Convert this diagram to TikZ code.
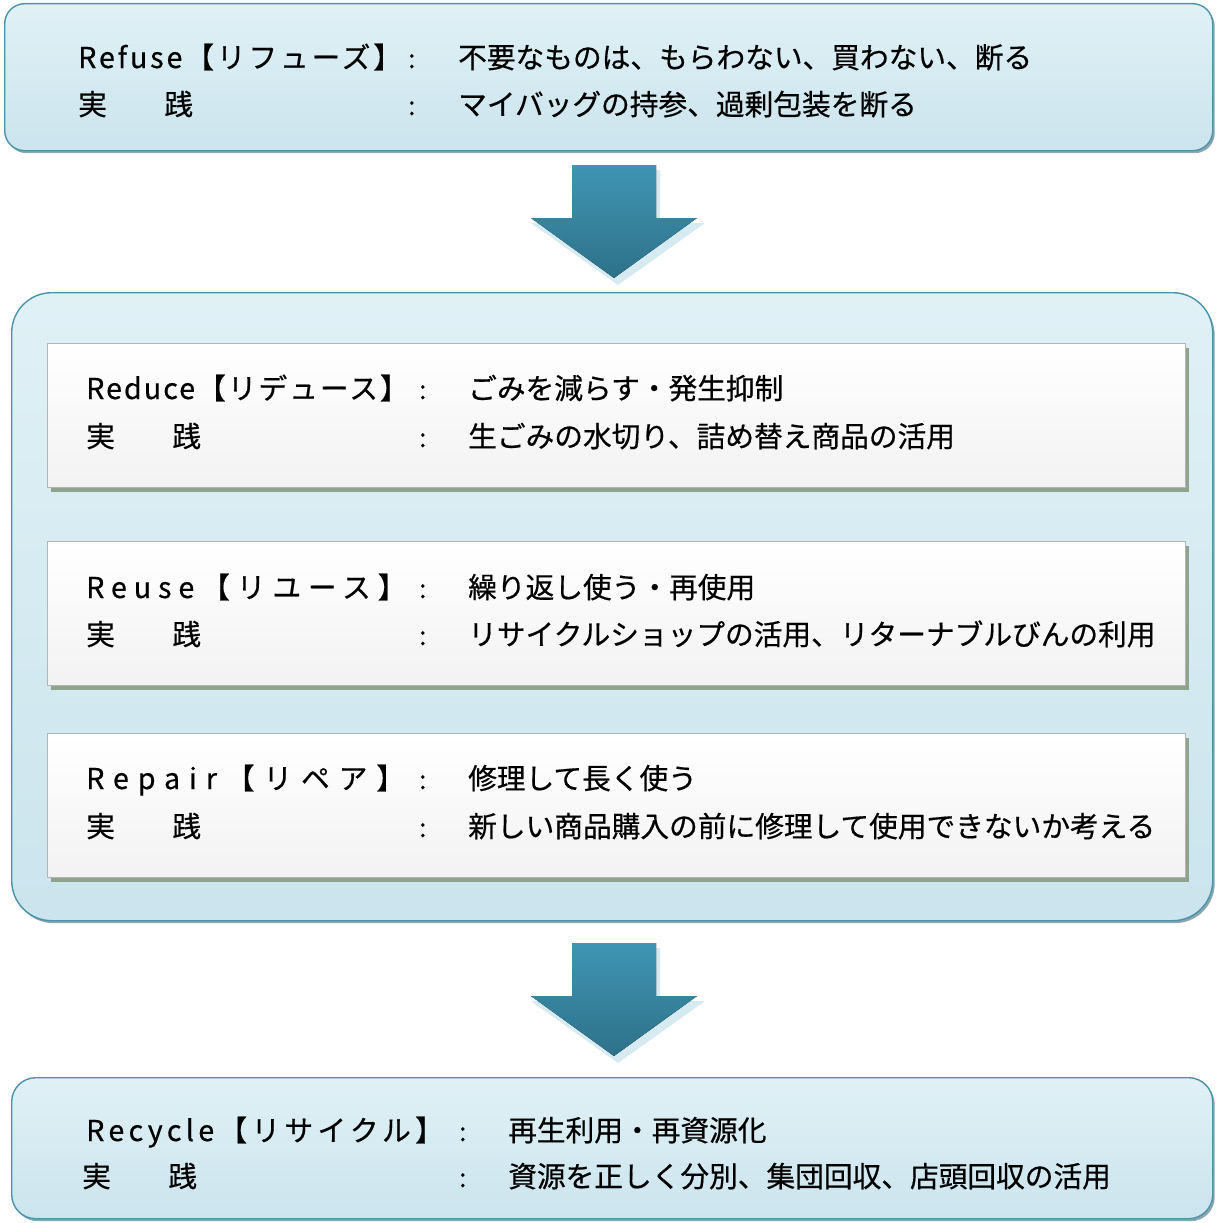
\documentclass[tikz,border=0pt]{standalone}
\usepackage{fontspec}
\setmainfont{Noto Sans CJK JP}
\newfontfamily\jp[FakeBold=0.5]{Noto Sans CJK JP}
\usetikzlibrary{shadows,calc}
\definecolor{outerline}{HTML}{4B93AA}
\definecolor{outertop}{HTML}{E0F1F6}
\definecolor{outerbot}{HTML}{CBE4ED}
\definecolor{outershadow}{HTML}{7F9DA6}
\definecolor{innerline}{HTML}{B5B5B5}
\definecolor{innershadow}{HTML}{8FA38D}
\definecolor{arrowA}{HTML}{3F95B4}
\definecolor{arrowB}{HTML}{2E7189}
\definecolor{arrowshadow}{HTML}{D6EAF1}
\tikzset{
  outerbox/.style={draw=outerline, line width=1.4pt, top color=outertop, bottom color=outerbot,
    anchor=north west, inner sep=0pt,
    drop shadow={shadow xshift=2pt, shadow yshift=-2.5pt, fill=outershadow, opacity=0.9}},
  innerbox/.style={draw=innerline, line width=1pt, top color=white, bottom color=white!95!black,
    anchor=north west, inner sep=0pt,
    drop shadow={shadow xshift=3pt, shadow yshift=-4pt, fill=innershadow, opacity=1}},
  txt/.style={anchor=base west, inner sep=0pt, font=\fontsize{28.7}{35}\selectfont\jp},
  colon/.style={anchor=base west, inner sep=0pt, font=\fontsize{26}{30}\selectfont\jp},
  bigarrow/.style={top color=arrowA, bottom color=arrowB, draw=none},
}
\begin{document}
\begin{tikzpicture}[x=1pt,y=-1pt]
\useasboundingbox (0,0) rectangle (1216,1223);
\fill[white] (0,0) rectangle (1216,1223);
% boxes
\node[outerbox, rounded corners=20pt, minimum width=1208pt, minimum height=147pt] (refuse) at (4,3) {};
\node[outerbox, rounded corners=40pt, minimum width=1201pt, minimum height=628pt] (group) at (11,292) {};
\node[innerbox, minimum width=1138pt, minimum height=144pt] (reduce) at (47,343) {};
\node[innerbox, minimum width=1138pt, minimum height=144pt] (reuse) at (47,541) {};
\node[innerbox, minimum width=1138pt, minimum height=144pt] (repair) at (47,733) {};
\node[outerbox, rounded corners=24pt, minimum width=1201pt, minimum height=141pt] (recycle) at (11,1077) {};
% arrows
\coordinate (a1) at (614,165);
\coordinate (a2) at (614,943);
\fill[arrowshadow] ($(a1)+(-38,5)$) -- ++(84,0) -- ++(0,53) -- ++(45,0) -- ++(-87,62) -- ++(-87,-62) -- ++(45,0) -- cycle;
\fill[bigarrow] (a1) ++(-42,0) -- ++(84,0) -- ++(0,53) -- ++(41,0) -- ++(-83,60) -- ++(-83,-60) -- ++(41,0) -- cycle;
\fill[arrowshadow] ($(a2)+(-38,5)$) -- ++(84,0) -- ++(0,53) -- ++(45,0) -- ++(-87,62) -- ++(-87,-62) -- ++(45,0) -- cycle;
\fill[bigarrow] (a2) ++(-42,0) -- ++(84,0) -- ++(0,53) -- ++(41,0) -- ++(-83,60) -- ++(-83,-60) -- ++(41,0) -- cycle;
% Refuse
\node[txt] (l1) at (78,68) {\addfontfeature{LetterSpace=10}Refuse【リフューズ】};
\node[colon] (c1) at (408,68) {:};
\node[txt] (t1) at (458,68) {不要なものは、もらわない、買わない、断る};
\node[txt] (l2) at (78,115) {実　　践};
\node[colon] (c2) at (408,115) {:};
\node[txt] (t2) at (458,115) {マイバッグの持参、過剰包装を断る};
% Reduce
\node[txt] (l3) at (86,399) {\addfontfeature{LetterSpace=7}Reduce【リデュース】};
\node[colon] (c3) at (419,399) {:};
\node[txt] (t3) at (468,399) {ごみを減らす・発生抑制};
\node[txt] (l4) at (86,447) {実　　践};
\node[colon] (c4) at (419,447) {:};
\node[txt] (t4) at (468,447) {生ごみの水切り、詰め替え商品の活用};
% Reuse
\node[txt] (l5) at (86,598) {\addfontfeature{LetterSpace=24}Reuse【リユース】};
\node[colon] (c5) at (419,598) {:};
\node[txt] (t5) at (468,598) {繰り返し使う・再使用};
\node[txt] (l6) at (86,645) {実　　践};
\node[colon] (c6) at (419,645) {:};
\node[txt] (t6) at (468,645) {リサイクルショップの活用、リターナブルびんの利用};
% Repair
\node[txt] (l7) at (86,789) {\addfontfeature{LetterSpace=31}Repair【リペア】};
\node[colon] (c7) at (419,789) {:};
\node[txt] (t7) at (468,789) {修理して長く使う};
\node[txt] (l8) at (86,837) {実　　践};
\node[colon] (c8) at (419,837) {:};
\node[txt] (t8) at (468,837) {新しい商品購入の前に修理して使用できないか考える};
% Recycle
\node[txt] (l9) at (86,1141) {\addfontfeature{LetterSpace=15}Recycle【リサイクル】};
\node[colon] (c9) at (459,1141) {:};
\node[txt] (t9) at (508,1141) {再生利用・再資源化};
\node[txt] (l10) at (82,1187) {実　　践};
\node[colon] (c10) at (459,1187) {:};
\node[txt] (t10) at (508,1187) {資源を正しく分別、集団回収、店頭回収の活用};
\end{tikzpicture}
\end{document}
